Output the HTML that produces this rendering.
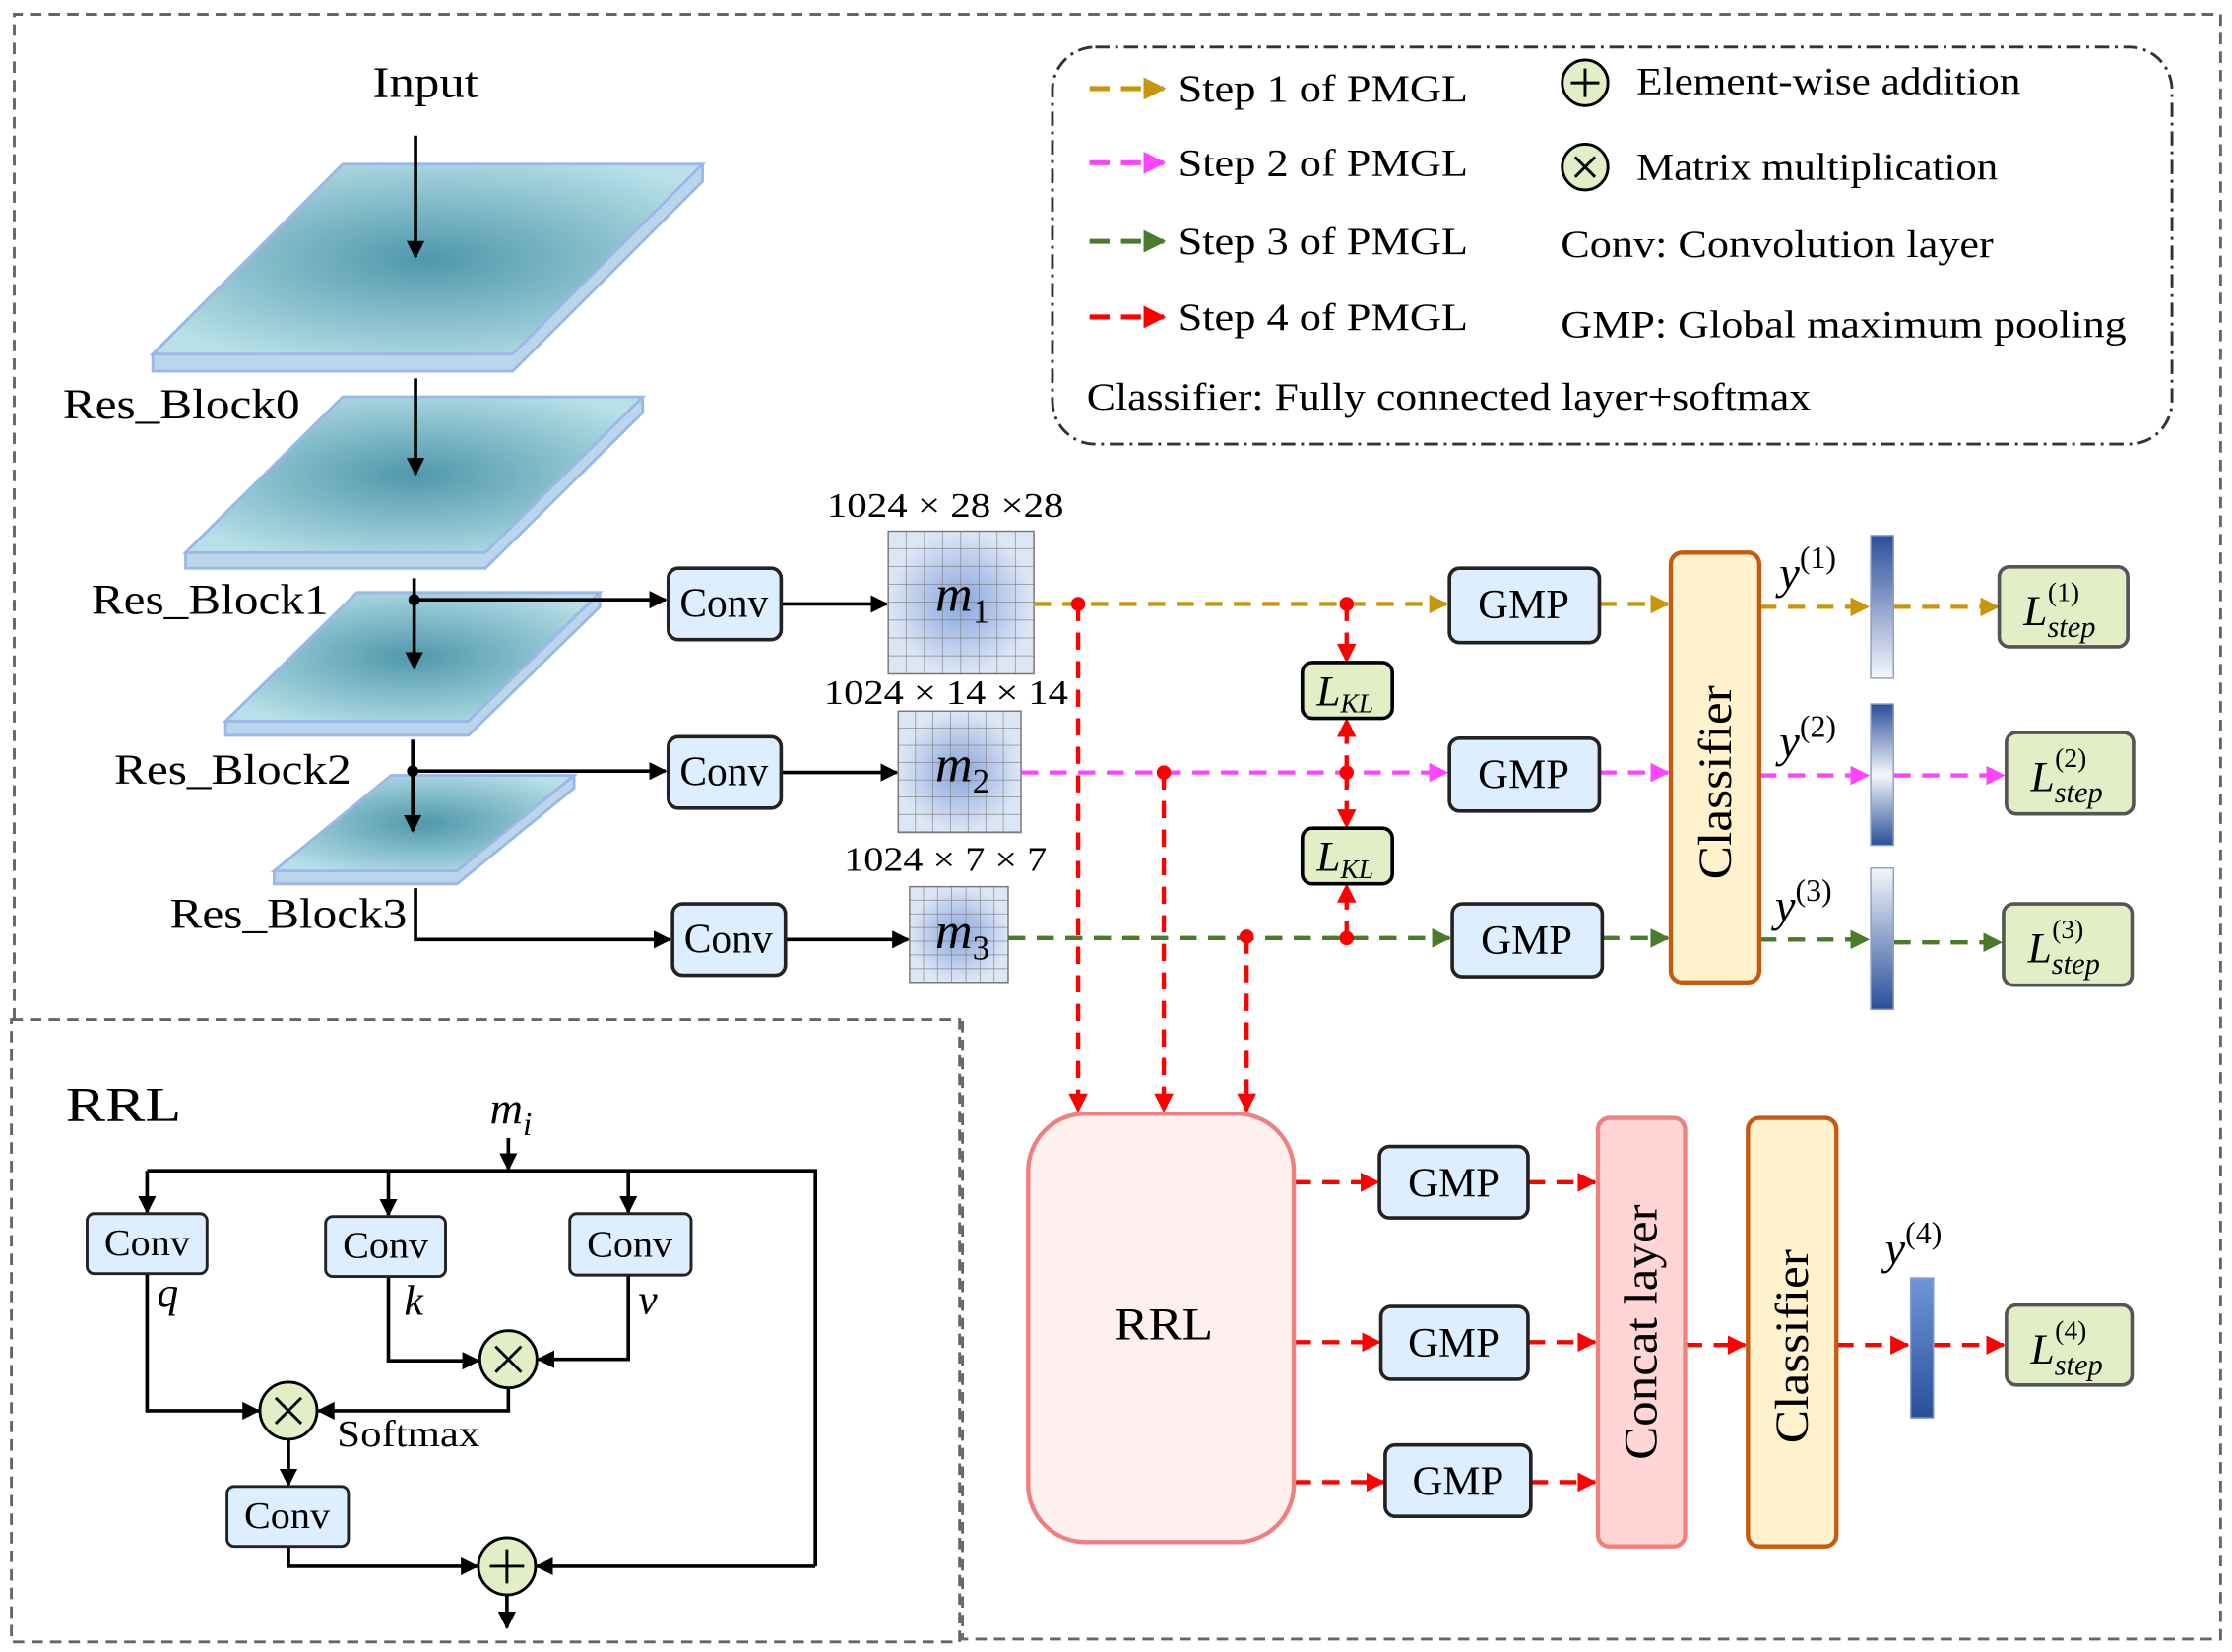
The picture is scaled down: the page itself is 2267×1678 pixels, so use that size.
<!DOCTYPE html>
<html><head><meta charset="utf-8"><style>html,body{margin:0;padding:0;background:#fff}svg{display:block}</style></head><body>
<svg width="2267" height="1678" viewBox="0 0 1563 1157" preserveAspectRatio="none" xmlns="http://www.w3.org/2000/svg" font-family="Liberation Serif, serif">
<defs>
<marker id="ak" viewBox="0 0 10 10" refX="9" refY="5" markerWidth="5" markerHeight="5" orient="auto"><path d="M0,0L10,5L0,10z" fill="#000"/></marker>
<marker id="ar" viewBox="0 0 10 10" refX="9" refY="5" markerWidth="4.5" markerHeight="4.5" orient="auto"><path d="M0,0L10,5L0,10z" fill="#f00"/></marker>
<marker id="ag" viewBox="0 0 10 10" refX="9" refY="5" markerWidth="4.5" markerHeight="4.5" orient="auto"><path d="M0,0L10,5L0,10z" fill="#c8960c"/></marker>
<marker id="am" viewBox="0 0 10 10" refX="9" refY="5" markerWidth="4.5" markerHeight="4.5" orient="auto"><path d="M0,0L10,5L0,10z" fill="#ff44ff"/></marker>
<marker id="an" viewBox="0 0 10 10" refX="9" refY="5" markerWidth="4.5" markerHeight="4.5" orient="auto"><path d="M0,0L10,5L0,10z" fill="#4a7a2a"/></marker>
<radialGradient id="lt" cx="0.5" cy="0.5" r="0.6"><stop offset="0" stop-color="#4f98ab"/><stop offset="1" stop-color="#b8e0e8"/></radialGradient>
<radialGradient id="fm"><stop offset="0" stop-color="#89a6dc"/><stop offset="1" stop-color="#dde6f5"/></radialGradient>
<linearGradient id="b1" x1="0" y1="0" x2="0" y2="1"><stop offset="0" stop-color="#2a4f9a"/><stop offset="1" stop-color="#f4f6fb"/></linearGradient>
<linearGradient id="b2" x1="0" y1="0" x2="0" y2="1"><stop offset="0" stop-color="#2a4f9a"/><stop offset="0.5" stop-color="#f4f6fb"/><stop offset="1" stop-color="#2a4f9a"/></linearGradient>
<linearGradient id="b3" x1="0" y1="0" x2="0" y2="1"><stop offset="0" stop-color="#f4f6fb"/><stop offset="1" stop-color="#2a4f9a"/></linearGradient>
<linearGradient id="b4" x1="0" y1="0" x2="0" y2="1"><stop offset="0" stop-color="#6f96d8"/><stop offset="1" stop-color="#2a4f9a"/></linearGradient>
<pattern id="g1" width="12.75" height="12.5" patternUnits="userSpaceOnUse" x="622" y="372"><path d="M12.75,0V12.5H0" fill="none" stroke="#777" stroke-width="0.8"/></pattern>
<pattern id="g2" width="12.3" height="12.1" patternUnits="userSpaceOnUse" x="629" y="498"><path d="M12.3,0V12.1H0" fill="none" stroke="#777" stroke-width="0.8"/></pattern>
<pattern id="g3" width="9.9" height="9.6" patternUnits="userSpaceOnUse" x="637" y="621"><path d="M9.9,0V9.6H0" fill="none" stroke="#777" stroke-width="0.8"/></pattern>
</defs>

<path d="M10,714 L10,10 L1555,10 L1555,1148 L674,1148 L674,714" fill="none" stroke="#666" stroke-width="2" stroke-dasharray="8,5"/>
<rect x="8" y="714" width="664" height="436" fill="none" stroke="#666" stroke-width="2" stroke-dasharray="8,5"/>

<rect x="737" y="33" width="784" height="278" rx="30" fill="none" stroke="#333" stroke-width="2" stroke-dasharray="10,4,2,4"/>
<g stroke-width="3.5" stroke-dasharray="14,8" fill="none">
<line x1="763" y1="62" x2="815" y2="62" stroke="#c8960c" marker-end="url(#ag)"/>
<line x1="763" y1="114" x2="815" y2="114" stroke="#ff44ff" marker-end="url(#am)"/>
<line x1="763" y1="169" x2="815" y2="169" stroke="#4a7a2a" marker-end="url(#an)"/>
<line x1="763" y1="222" x2="815" y2="222" stroke="#f00" marker-end="url(#ar)"/>
</g>
<g font-size="27" fill="#000">
<text x="825" y="71" textLength="203" lengthAdjust="spacingAndGlyphs">Step 1 of PMGL</text>
<text x="825" y="123" textLength="203" lengthAdjust="spacingAndGlyphs">Step 2 of PMGL</text>
<text x="825" y="178" textLength="203" lengthAdjust="spacingAndGlyphs">Step 3 of PMGL</text>
<text x="825" y="231" textLength="203" lengthAdjust="spacingAndGlyphs">Step 4 of PMGL</text>
<text x="1146" y="66" textLength="269" lengthAdjust="spacingAndGlyphs">Element-wise addition</text>
<text x="1146" y="126" textLength="253" lengthAdjust="spacingAndGlyphs">Matrix multiplication</text>
<text x="1093" y="180" textLength="303" lengthAdjust="spacingAndGlyphs">Conv:  Convolution layer</text>
<text x="1093" y="236" textLength="396" lengthAdjust="spacingAndGlyphs">GMP:  Global maximum pooling</text>
<text x="761" y="287" textLength="507" lengthAdjust="spacingAndGlyphs">Classifier:  Fully connected layer+softmax</text>
</g>
<circle cx="1110" cy="58" r="16" fill="#e2efc6" stroke="#000" stroke-width="2"/>
<path d="M1100,58H1120M1110,48V68" stroke="#000" stroke-width="2"/>
<circle cx="1110" cy="117" r="16" fill="#e2efc6" stroke="#000" stroke-width="2"/>
<path d="M1103,110L1117,124M1117,110L1103,124" stroke="#000" stroke-width="2"/>

<text x="261" y="68" font-size="31" textLength="74" lengthAdjust="spacingAndGlyphs">Input</text>
<g stroke="#9bb8e8" stroke-width="2">
<path d="M107,248L240,115L492,115L492,127L359,260L107,260z" fill="#b9d6ea"/>
<path d="M107,248L240,115L492,115L359,248z" fill="url(#lt)"/>
<path d="M130,387L240,278L450,278L450,289L340,398L130,398z" fill="#b9d6ea"/>
<path d="M130,387L240,278L450,278L340,387z" fill="url(#lt)"/>
<path d="M158,505L250,415L420,415L420,425L328,515L158,515z" fill="#b9d6ea"/>
<path d="M158,505L250,415L420,415L328,505z" fill="url(#lt)"/>
<path d="M192,610L274,543L402,543L402,552L320,619L192,619z" fill="#b9d6ea"/>
<path d="M192,610L274,543L402,543L320,610z" fill="url(#lt)"/>
</g>
<g stroke="#000" stroke-width="2.5" fill="none" marker-end="url(#ak)">
<line x1="291" y1="95" x2="291" y2="180"/>
<line x1="291" y1="265" x2="291" y2="332"/>
<line x1="290" y1="405" x2="290" y2="468"/>
<line x1="289" y1="518" x2="289" y2="582"/>
<line x1="290" y1="420" x2="466" y2="420"/>
<line x1="289" y1="540" x2="466" y2="540"/>
<path d="M291,622V658H469"/>
<line x1="547" y1="423" x2="621" y2="423"/>
<line x1="547" y1="541" x2="628" y2="541"/>
<line x1="550" y1="658" x2="636" y2="658"/>
</g>
<circle cx="290" cy="420" r="4"/><circle cx="289" cy="540" r="4"/>
<g font-size="30">
<text x="44" y="293" textLength="166" lengthAdjust="spacingAndGlyphs">Res_Block0</text>
<text x="64" y="430" textLength="166" lengthAdjust="spacingAndGlyphs">Res_Block1</text>
<text x="80" y="549" textLength="166" lengthAdjust="spacingAndGlyphs">Res_Block2</text>
<text x="119" y="650" textLength="166" lengthAdjust="spacingAndGlyphs">Res_Block3</text>
</g>
<g fill="#ddeeff" stroke="#222" stroke-width="2.5">
<rect x="468" y="398" width="79" height="50" rx="7"/>
<rect x="468" y="516" width="79" height="50" rx="7"/>
<rect x="471" y="633" width="79" height="50" rx="7"/>
</g>
<g font-size="29" text-anchor="middle">
<text x="507" y="432" textLength="62" lengthAdjust="spacingAndGlyphs">Conv</text><text x="507" y="550" textLength="62" lengthAdjust="spacingAndGlyphs">Conv</text><text x="510" y="667" textLength="62" lengthAdjust="spacingAndGlyphs">Conv</text>
</g>
<rect x="622" y="372" width="102" height="100" fill="url(#fm)"/><rect x="622" y="372" width="102" height="100" fill="url(#g1)" stroke="#777"/>
<rect x="629" y="498" width="86" height="85" fill="url(#fm)"/><rect x="629" y="498" width="86" height="85" fill="url(#g2)" stroke="#777"/>
<rect x="637" y="621" width="69" height="67" fill="url(#fm)"/><rect x="637" y="621" width="69" height="67" fill="url(#g3)" stroke="#777"/>
<g font-size="24">
<text x="579" y="362" textLength="166" lengthAdjust="spacingAndGlyphs">1024 × 28 ×28</text>
<text x="577" y="493" textLength="171" lengthAdjust="spacingAndGlyphs">1024 × 14 × 14</text>
<text x="591" y="610" textLength="142" lengthAdjust="spacingAndGlyphs">1024 × 7 × 7</text>
</g>
<g font-size="36" font-style="italic">
<text x="655" y="428">m<tspan font-size="24" font-style="normal" dy="8">1</tspan></text>
<text x="655" y="547">m<tspan font-size="24" font-style="normal" dy="8">2</tspan></text>
<text x="655" y="664">m<tspan font-size="24" font-style="normal" dy="8">3</tspan></text>
</g>

<g stroke-width="3" stroke-dasharray="12,8" fill="none">
<line x1="724" y1="423" x2="1013" y2="423" stroke="#c8960c" marker-end="url(#ag)"/>
<line x1="1120" y1="423" x2="1168" y2="423" stroke="#c8960c" marker-end="url(#ag)"/>
<line x1="1232" y1="425" x2="1308" y2="425" stroke="#c8960c" marker-end="url(#ag)"/>
<line x1="1326" y1="425" x2="1399" y2="425" stroke="#c8960c" marker-end="url(#ag)"/>
<line x1="715" y1="541" x2="1013" y2="541" stroke="#ff44ff" marker-end="url(#am)"/>
<line x1="1120" y1="541" x2="1168" y2="541" stroke="#ff44ff" marker-end="url(#am)"/>
<line x1="1232" y1="543" x2="1308" y2="543" stroke="#ff44ff" marker-end="url(#am)"/>
<line x1="1326" y1="543" x2="1403" y2="543" stroke="#ff44ff" marker-end="url(#am)"/>
<line x1="706" y1="657" x2="1015" y2="657" stroke="#4a7a2a" marker-end="url(#an)"/>
<line x1="1122" y1="657" x2="1168" y2="657" stroke="#4a7a2a" marker-end="url(#an)"/>
<line x1="1232" y1="658" x2="1308" y2="658" stroke="#4a7a2a" marker-end="url(#an)"/>
<line x1="1326" y1="660" x2="1401" y2="660" stroke="#4a7a2a" marker-end="url(#an)"/>
</g>
<g stroke="#f00" stroke-width="3" stroke-dasharray="12,8" fill="none" marker-end="url(#ar)">
<line x1="755" y1="423" x2="755" y2="778"/>
<line x1="815" y1="541" x2="815" y2="778"/>
<line x1="873" y1="656" x2="873" y2="778"/>
<line x1="943" y1="423" x2="943" y2="463"/>
<line x1="943" y1="541" x2="943" y2="504"/>
<line x1="943" y1="541" x2="943" y2="579"/>
<line x1="943" y1="657" x2="943" y2="620"/>
<line x1="906" y1="828" x2="965" y2="828"/>
<line x1="906" y1="940" x2="966" y2="940"/>
<line x1="906" y1="1038" x2="969" y2="1038"/>
<line x1="1070" y1="828" x2="1117" y2="828"/>
<line x1="1070" y1="940" x2="1117" y2="940"/>
<line x1="1072" y1="1038" x2="1117" y2="1038"/>
<line x1="1180" y1="942" x2="1222" y2="942"/>
<line x1="1286" y1="942" x2="1336" y2="942"/>
<line x1="1354" y1="942" x2="1403" y2="942"/>
</g>
<g fill="#f00"><circle cx="755" cy="423" r="5"/><circle cx="815" cy="541" r="5"/><circle cx="873" cy="656" r="5"/><circle cx="943" cy="423" r="5"/><circle cx="943" cy="541" r="5"/><circle cx="943" cy="657" r="5"/></g>

<g fill="#e2efc6" stroke="#000" stroke-width="2.5">
<rect x="912" y="464" width="63" height="39" rx="7"/>
<rect x="912" y="580" width="63" height="39" rx="7"/>
<rect x="1400" y="397" width="90" height="56" rx="7" stroke="#555"/>
<rect x="1405" y="513" width="89" height="57" rx="7" stroke="#555"/>
<rect x="1403" y="633" width="90" height="57" rx="7" stroke="#555"/>
<rect x="1405" y="914" width="88" height="56" rx="7" stroke="#555"/>
</g>
<g font-size="30" font-style="italic">
<text x="922" y="494">L<tspan font-size="19" dy="5">KL</tspan></text>
<text x="922" y="610">L<tspan font-size="19" dy="5">KL</tspan></text>
<text x="1417" y="438">L<tspan font-size="21" dy="8">step</tspan><tspan font-size="19" font-style="normal" x="1434" y="421">(1)</tspan></text>
<text x="1422" y="554">L<tspan font-size="21" dy="8">step</tspan><tspan font-size="19" font-style="normal" x="1439" y="537">(2)</tspan></text>
<text x="1420" y="674">L<tspan font-size="21" dy="8">step</tspan><tspan font-size="19" font-style="normal" x="1437" y="657">(3)</tspan></text>
<text x="1422" y="955">L<tspan font-size="21" dy="8">step</tspan><tspan font-size="19" font-style="normal" x="1439" y="938">(4)</tspan></text>
</g>

<g fill="#ddeeff" stroke="#222" stroke-width="2.5">
<rect x="1015" y="398" width="105" height="52" rx="7"/>
<rect x="1015" y="517" width="105" height="51" rx="7"/>
<rect x="1017" y="633" width="105" height="51" rx="7"/>
<rect x="966" y="803" width="104" height="50" rx="7"/>
<rect x="967" y="915" width="103" height="51" rx="7"/>
<rect x="970" y="1012" width="102" height="50" rx="7"/>
</g>
<g font-size="29" text-anchor="middle">
<text x="1067" y="433" textLength="64" lengthAdjust="spacingAndGlyphs">GMP</text><text x="1067" y="552" textLength="64" lengthAdjust="spacingAndGlyphs">GMP</text><text x="1069" y="668" textLength="64" lengthAdjust="spacingAndGlyphs">GMP</text>
<text x="1018" y="838" textLength="64" lengthAdjust="spacingAndGlyphs">GMP</text><text x="1018" y="950" textLength="64" lengthAdjust="spacingAndGlyphs">GMP</text><text x="1021" y="1047" textLength="64" lengthAdjust="spacingAndGlyphs">GMP</text>
</g>

<rect x="1170" y="387" width="62" height="301" rx="8" fill="#fff2cc" stroke="#c55a11" stroke-width="3"/>
<text transform="translate(1212,548) rotate(-90)" font-size="33" text-anchor="middle" textLength="136" lengthAdjust="spacingAndGlyphs">Classifier</text>
<rect x="1224" y="783" width="62" height="300" rx="8" fill="#fff2cc" stroke="#c55a11" stroke-width="3"/>
<text transform="translate(1266,943) rotate(-90)" font-size="33" text-anchor="middle" textLength="136" lengthAdjust="spacingAndGlyphs">Classifier</text>
<rect x="1119" y="783" width="61" height="300" rx="8" fill="#ffd5d5" stroke="#f08080" stroke-width="3"/>
<text transform="translate(1160,933) rotate(-90)" font-size="33" text-anchor="middle" textLength="179" lengthAdjust="spacingAndGlyphs">Concat layer</text>
<rect x="720" y="780" width="186" height="300" rx="40" fill="#fff0f0" stroke="#f08080" stroke-width="3"/>
<text x="815" y="938" font-size="32" text-anchor="middle" textLength="69" lengthAdjust="spacingAndGlyphs">RRL</text>

<rect x="1310" y="375" width="16" height="100" fill="url(#b1)" stroke="#8aa0c8"/>
<rect x="1310" y="493" width="16" height="99" fill="url(#b2)" stroke="#8aa0c8"/>
<rect x="1310" y="608" width="16" height="99" fill="url(#b3)" stroke="#8aa0c8"/>
<rect x="1338" y="895" width="16" height="98" fill="url(#b4)" stroke="#8aa0c8"/>
<g font-size="32" font-style="italic">
<text x="1246" y="412">y<tspan font-size="22" font-style="normal" dy="-14">(1)</tspan></text>
<text x="1246" y="530">y<tspan font-size="22" font-style="normal" dy="-14">(2)</tspan></text>
<text x="1243" y="645">y<tspan font-size="22" font-style="normal" dy="-14">(3)</tspan></text>
<text x="1320" y="885">y<tspan font-size="22" font-style="normal" dy="-14">(4)</tspan></text>
</g>

<text x="46" y="785" font-size="34" textLength="81" lengthAdjust="spacingAndGlyphs">RRL</text>
<text x="343" y="787" font-size="32" font-style="italic">m<tspan font-size="23" dy="8">i</tspan></text>
<g stroke="#000" stroke-width="2.5" fill="none">
<path d="M103,820H571V1097"/>
</g>
<g stroke="#000" stroke-width="2.5" fill="none" marker-end="url(#ak)">
<line x1="356" y1="797" x2="356" y2="819"/>
<line x1="103" y1="820" x2="103" y2="849"/>
<line x1="272" y1="820" x2="272" y2="851"/>
<line x1="440" y1="820" x2="440" y2="849"/>
<path d="M103,892V988H181"/>
<path d="M272,894V953H335"/>
<path d="M440,893V952H377"/>
<path d="M356,972V988H223"/>
<line x1="202" y1="1008" x2="202" y2="1040"/>
<path d="M202,1083V1097H334"/>
<line x1="571" y1="1097" x2="376" y2="1097"/>
<line x1="355" y1="1117" x2="355" y2="1140"/>
</g>
<g fill="#ddeeff" stroke="#222" stroke-width="2">
<rect x="61" y="850" width="84" height="42" rx="5"/>
<rect x="228" y="852" width="84" height="42" rx="5"/>
<rect x="399" y="850" width="85" height="43" rx="5"/>
<rect x="159" y="1041" width="85" height="42" rx="5"/>
</g>
<g font-size="26" text-anchor="middle">
<text x="103" y="879" textLength="60" lengthAdjust="spacingAndGlyphs">Conv</text><text x="270" y="881" textLength="60" lengthAdjust="spacingAndGlyphs">Conv</text><text x="441" y="880" textLength="60" lengthAdjust="spacingAndGlyphs">Conv</text><text x="201" y="1070" textLength="60" lengthAdjust="spacingAndGlyphs">Conv</text>
</g>
<g font-size="30" font-style="italic">
<text x="110" y="915">q</text><text x="283" y="921">k</text><text x="447" y="920">v</text>
</g>
<text x="236" y="1013" font-size="26" textLength="100" lengthAdjust="spacingAndGlyphs">Softmax</text>
<circle cx="356" cy="952" r="20" fill="#e2efc6" stroke="#000" stroke-width="2"/>
<path d="M347,943L365,961M365,943L347,961" stroke="#000" stroke-width="2"/>
<circle cx="202" cy="988" r="20" fill="#e2efc6" stroke="#000" stroke-width="2"/>
<path d="M193,979L211,997M211,979L193,997" stroke="#000" stroke-width="2"/>
<circle cx="355" cy="1097" r="20" fill="#e2efc6" stroke="#000" stroke-width="2"/>
<path d="M343,1097H367M355,1085V1109" stroke="#000" stroke-width="2"/>
</svg>
</body></html>
